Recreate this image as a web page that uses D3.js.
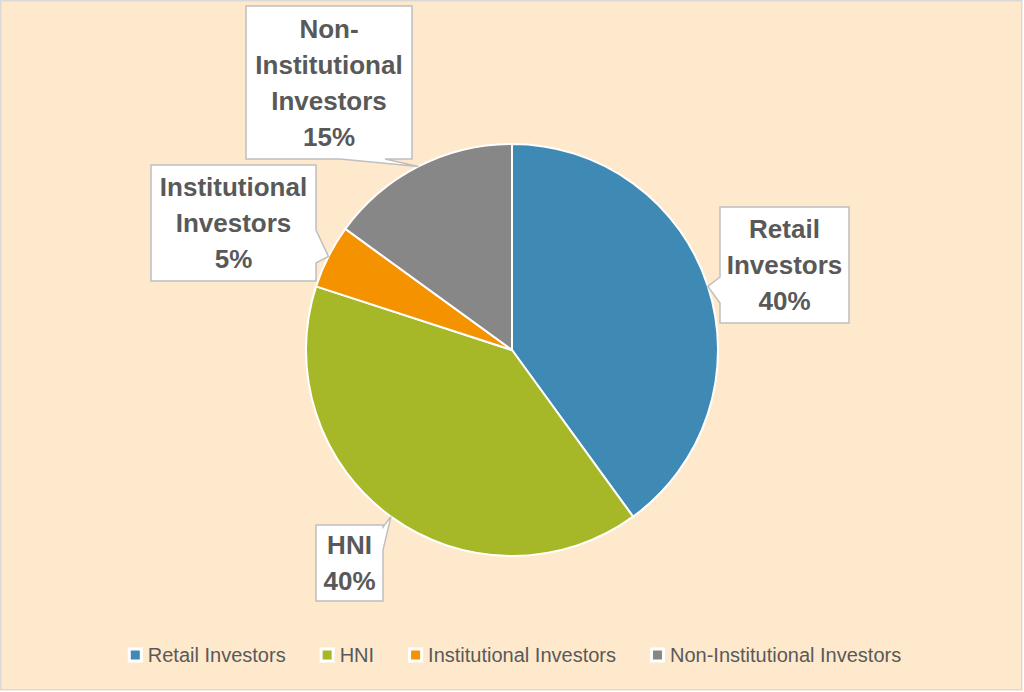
<!DOCTYPE html>
<html>
<head>
<meta charset="utf-8">
<script src="https://cdn.jsdelivr.net/npm/d3@7"></script>
<style>
  html, body { margin: 0; padding: 0; background: #ffffff; }
  svg { display: block; }
</style>
</head>
<body>
<svg id="chart" width="1024" height="692"></svg>
<script>
// ---- data ----
const categories = ["Retail Investors", "HNI", "Institutional Investors", "Non-Institutional Investors"];
const values = [40, 40, 5, 15];
const labelLines = [
  ["Retail", "Investors"],
  ["HNI"],
  ["Institutional", "Investors"],
  ["Non-", "Institutional", "Investors"]
];
const colors = ["#3F8AB5", "#A6B828", "#F59200", "#878787"];

// ---- layout ----
const W = 1024, H = 692;
const cx = 512, cy = 350, R = 206;
const textColor = "#595959";
const labelFont = "'Liberation Sans', Arial, sans-serif";
// callout boxes: x, y, w, h, side of pointer, attach positions along that side
const boxes = [
  { x: 720, y: 207, w: 129, h: 116, side: "left",   a: [277, 303] },
  { x: 316, y: 525, w: 67,  h: 76,  side: "right",  a: [527, 550] },
  { x: 151, y: 165, w: 165, h: 116, side: "right",  a: [230, 263] },
  { x: 246, y: 6,   w: 166, h: 153, side: "bottom", a: [340, 385] }
];

const svg = d3.select("#chart");

// chart area background + frame
svg.append("rect")
  .attr("x", 0.75).attr("y", 0.75)
  .attr("width", 1021).attr("height", 689)
  .attr("fill", "#FFE9CC")
  .attr("stroke", "#D9D9D9").attr("stroke-width", 1.5);

const pie = d3.pie().sort(null).value(d => d)(values);
const arc = d3.arc().innerRadius(0).outerRadius(R);
const edgeArc = d3.arc().innerRadius(R).outerRadius(R);

const g = svg.append("g").attr("transform", `translate(${cx},${cy})`);
g.selectAll("path.slice")
  .data(pie)
  .join("path")
  .attr("class", "slice")
  .attr("d", arc)
  .attr("fill", (d, i) => colors[i])
  .attr("stroke", "#ffffff")
  .attr("stroke-width", 2)
  .attr("stroke-linejoin", "round");

// callouts
const lab = svg.append("g");
pie.forEach((d, i) => {
  const b = boxes[i];
  const c = edgeArc.centroid(d);
  const tip = [cx + c[0], cy + c[1]];
  const x0 = b.x, y0 = b.y, x1 = b.x + b.w, y1 = b.y + b.h;
  let pts;
  if (b.side === "left") {
    pts = [[x0, y0], [x1, y0], [x1, y1], [x0, y1], [x0, b.a[1]], tip, [x0, b.a[0]]];
  } else if (b.side === "right") {
    pts = [[x0, y0], [x1, y0], [x1, b.a[0]], tip, [x1, b.a[1]], [x1, y1], [x0, y1]];
  } else {
    pts = [[x0, y0], [x1, y0], [x1, y1], [b.a[1], y1], tip, [b.a[0], y1], [x0, y1]];
  }
  lab.append("path")
    .attr("d", "M" + pts.map(p => p.join(",")).join("L") + "Z")
    .attr("fill", "#ffffff")
    .attr("stroke", "#BFBFBF")
    .attr("stroke-width", 1.5)
    .attr("stroke-linejoin", "miter");

  const lines = labelLines[i].concat([values[i] + "%"]);
  const lh = 36;
  const midY = y0 + b.h / 2;
  const firstBase = midY - (lines.length - 1) * lh / 2 + 9;
  const t = lab.append("text")
    .attr("text-anchor", "middle")
    .attr("font-family", labelFont)
    .attr("font-weight", "bold")
    .attr("font-size", 26)
    .attr("fill", textColor);
  lines.forEach((ln, k) => {
    t.append("tspan")
      .attr("x", x0 + b.w / 2)
      .attr("y", firstBase + k * lh)
      .text(ln);
  });
});

// legend
const leg = svg.append("g");
const legY = 655;
const items = categories.map((c, i) => {
  const gi = leg.append("g");
  gi.append("rect").attr("x", 0).attr("y", -7.5).attr("width", 15).attr("height", 15).attr("fill", "#ffffff");
  gi.append("rect").attr("x", 3).attr("y", -4.5).attr("width", 9).attr("height", 9).attr("fill", colors[i]);
  const tx = gi.append("text")
    .attr("x", 20).attr("y", 7)
    .attr("font-family", labelFont)
    .attr("font-size", 20)
    .attr("fill", textColor)
    .text(c);
  return { g: gi, w: 20 + tx.node().getComputedTextLength() };
});
const gap = 34;
const total = d3.sum(items, d => d.w) + gap * (items.length - 1);
let lx = 514.5 - total / 2;
items.forEach(it => {
  it.g.attr("transform", `translate(${lx},${legY})`);
  lx += it.w + gap;
});
</script>
</body>
</html>
